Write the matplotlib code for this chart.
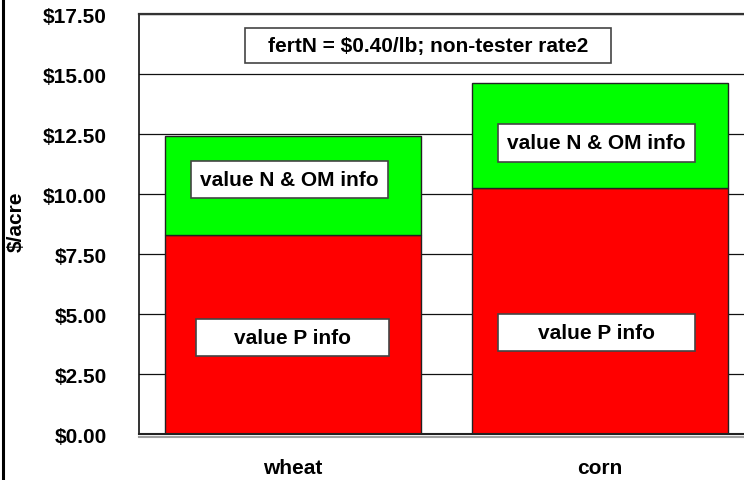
import matplotlib.pyplot as plt
import matplotlib.patheffects as pe
from matplotlib.lines import Line2D
from matplotlib.patches import Rectangle

plt.rcParams['font.family'] = ['Liberation Sans', 'DejaVu Sans']
plt.rcParams['font.weight'] = 'bold'

crops = ["wheat", "corn"]
p_info = [8.29, 10.25]
n_om_info = [4.13, 4.38]
y_ticks = [0, 2.5, 5, 7.5, 10, 12.5, 15, 17.5]
y_tick_labels = ["$0.00", "$2.50", "$5.00", "$7.50", "$10.00", "$12.50", "$15.00", "$17.50"]

# label boxes: (x center, y center, width, height, text) in data units
boxes = [
    (0.44, 16.22, 1.19, 1.46, "fertN = $0.40/lb; non-tester rate2"),
    (-0.01, 10.62, 0.64, 1.54, "value N & OM info"),
    (0.99, 12.14, 0.64, 1.56, "value N & OM info"),
    (0.00, 4.05, 0.63, 1.54, "value P info"),
    (0.99, 4.24, 0.64, 1.54, "value P info"),
]

fs = 15

fig = plt.figure(figsize=(7.44, 4.81), dpi=100)
ax = fig.add_axes([139 / 744, 1 - 435.3 / 481, (753.5 - 139) / 744, 420 / 481])

x = range(len(crops))
ax.bar(x, p_info, width=0.834, color="#ff0000", edgecolor="#222222", linewidth=1, zorder=3)
ax.bar(x, n_om_info, bottom=p_info, width=0.834, color="#00ff00", edgecolor="#222222", linewidth=1, zorder=3)

ax.set_xlim(-0.5, 1.5)
ax.set_ylim(0, 17.5)
ax.set_yticks(y_ticks)
ax.set_yticklabels(y_tick_labels)
ax.set_xticks(list(x))
ax.set_xticklabels(crops)
ax.tick_params(axis="y", length=0, pad=23, labelsize=fs)
ax.tick_params(axis="x", length=0, pad=17, labelsize=fs)

ax.yaxis.grid(True, color="#111111", linewidth=0.9, zorder=0)
ax.set_axisbelow(True)

ax.spines["right"].set_visible(False)
ax.spines["top"].set_color("#333333")
ax.spines["top"].set_linewidth(1.6)
ax.spines["left"].set_color("#111111")
ax.spines["left"].set_linewidth(1.2)
ax.spines["bottom"].set_color("#222222")
ax.spines["bottom"].set_linewidth(1.5)
ax.spines["bottom"].set_zorder(4)
ax.spines["bottom"].set_path_effects([
    pe.SimpleLineShadow(offset=(0, -2), shadow_color="#888888", alpha=0.8),
    pe.Normal(),
])

for cx, cy, w, h, txt in boxes:
    ax.add_patch(Rectangle((cx - w / 2, cy - h / 2), w, h, facecolor="white",
                           edgecolor="#444444", linewidth=1.2, zorder=5))
    ax.text(cx, cy, txt, ha="center", va="center", fontsize=fs,
            fontweight="bold", zorder=6)

fig.text(16 / 744, 1 - 222 / 481, "$/acre", rotation=90, ha="center", va="center",
         fontsize=fs, fontweight="bold")

# chart-area border line on the left
fig.add_artist(Line2D([3 / 744, 3 / 744], [0, 1], color="black", linewidth=2.2,
                      transform=fig.transFigure))

fig.savefig("out.png", dpi=100)
